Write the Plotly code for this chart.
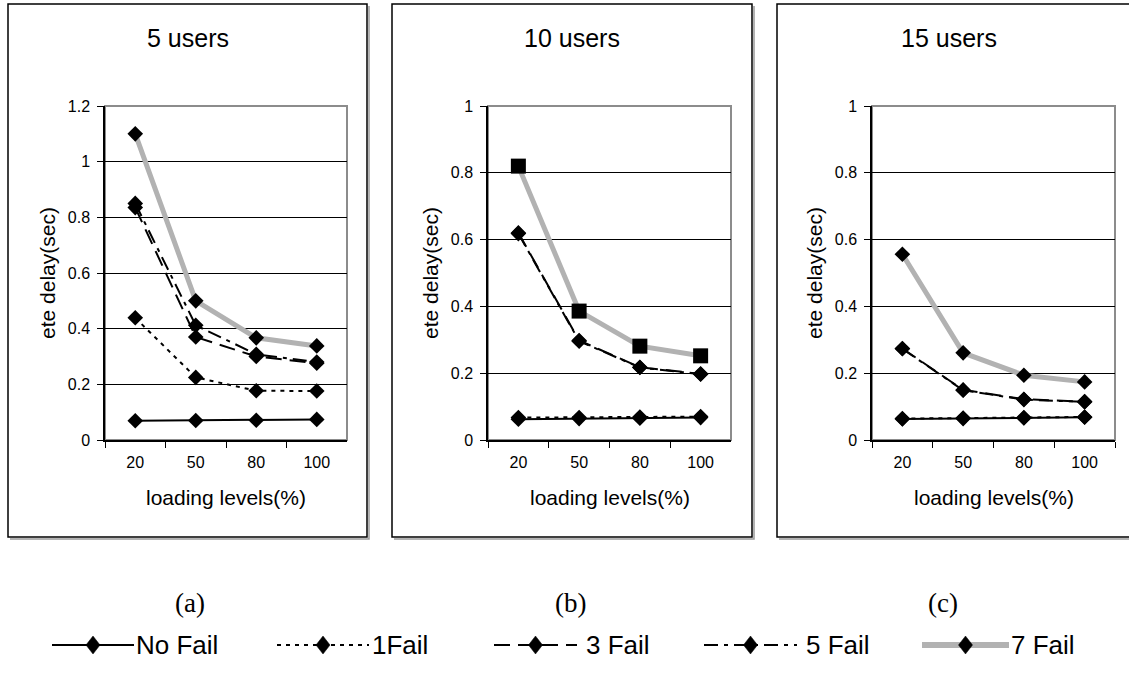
import plotly.graph_objects as go

W, H = 1129, 675

# ---- data -------------------------------------------------------------
loads = ["20", "50", "80", "100"]
series_names = ["No Fail", "1Fail", "3 Fail", "5 Fail", "7 Fail"]
panel_titles = ["5 users", "10 users", "15 users"]
panel_tags = ["(a)", "(b)", "(c)"]
y_max = [1.2, 1.0, 1.0]

users5_no_fail = [0.069, 0.070, 0.071, 0.074]
users5_1fail = [0.439, 0.225, 0.177, 0.176]
users5_3fail = [0.835, 0.370, 0.300, 0.276]
users5_5fail = [0.850, 0.412, 0.308, 0.280]
users5_7fail = [1.100, 0.500, 0.367, 0.338]

users10_no_fail = [0.062, 0.064, 0.065, 0.067]
users10_1fail = [0.067, 0.067, 0.069, 0.070]
users10_3fail = [0.620, 0.298, 0.218, 0.198]
users10_5fail = [0.618, 0.296, 0.217, 0.197]
users10_7fail = [0.820, 0.386, 0.281, 0.252]

users15_no_fail = [0.063, 0.064, 0.066, 0.068]
users15_1fail = [0.064, 0.066, 0.067, 0.069]
users15_3fail = [0.274, 0.150, 0.122, 0.115]
users15_5fail = [0.273, 0.149, 0.121, 0.114]
users15_7fail = [0.556, 0.261, 0.194, 0.174]

panels = [
    [users5_no_fail, users5_1fail, users5_3fail, users5_5fail, users5_7fail],
    [users10_no_fail, users10_1fail, users10_3fail, users10_5fail, users10_7fail],
    [users15_no_fail, users15_1fail, users15_3fail, users15_5fail, users15_7fail],
]

# ---- styling ----------------------------------------------------------
SANS = "Liberation Sans, Arial, sans-serif"
SERIF = "Liberation Serif, Times New Roman, serif"
GRAY_LINE = "#b2b2b2"

line_styles = [
    dict(color="black", width=2, dash="solid"),
    dict(color="black", width=2, dash="4px,5px"),
    dict(color="black", width=2, dash="16px,8px"),
    dict(color="black", width=2, dash="14px,6px,4px,6px"),
    dict(color=GRAY_LINE, width=5, dash="solid"),
]
# marker symbol per panel for the 7 Fail series
seven_symbol = ["diamond", "square", "diamond"]


def fx(px):
    return px / W


def fy(py):
    return 1 - py / H


plot_left = [105, 488, 872]
plot_right = [347, 731, 1115]
plot_top, plot_bottom = 106, 440
box_left = [8, 392, 777]
box_right = [367, 752, 1140]
box_top, box_bottom = 4, 537

fig = go.Figure()
shapes = []
annotations = []

for p in range(3):
    ax = "" if p == 0 else str(p + 1)
    xa, ya = "x" + ax, "y" + ax
    for s, name in enumerate(series_names):
        st = line_styles[s]
        sym = seven_symbol[p] if s == 4 else "diamond"
        msize = 15 if sym == "square" else 12
        fig.add_trace(go.Scatter(
            x=loads, y=panels[p][s], name=name, mode="lines+markers",
            line=dict(color=st["color"], width=st["width"], dash=st["dash"]),
            marker=dict(symbol=sym, size=msize, color="black",
                        line=dict(width=0)),
            xaxis=xa, yaxis=ya, showlegend=False, cliponaxis=False,
        ))

    dom_x = [fx(plot_left[p]), fx(plot_right[p])]
    dom_y = [fy(plot_bottom), fy(plot_top)]
    fig.layout["xaxis" + ax] = dict(
        domain=dom_x, anchor=ya, type="category", categoryorder="array",
        categoryarray=loads, range=[-0.5, 3.5], tickson="boundaries",
        ticks="outside", ticklen=6, tickwidth=1, tickcolor="black",
        showline=True, linecolor="black", linewidth=1.5, showgrid=False,
        zeroline=False, ticklabelstandoff=7, automargin=False,
        tickfont=dict(family=SANS, size=16, color="black"),
    )
    fig.layout["yaxis" + ax] = dict(
        domain=dom_y, anchor=xa, range=[0, y_max[p]], dtick=0.2,
        tickformat="~g", ticks="outside", ticklen=6, tickwidth=1,
        tickcolor="black", showline=True, linecolor="black", linewidth=1.5,
        showgrid=True, gridcolor="black", gridwidth=1, zeroline=False,
        ticklabelstandoff=4, automargin=False,
        tickfont=dict(family=SANS, size=16, color="black"),
    )

    # gray plot-area frame (top/right visible; left/bottom covered by axes)
    shapes.append(dict(
        type="rect", xref="paper", yref="paper",
        x0=dom_x[0], x1=dom_x[1], y0=dom_y[0], y1=dom_y[1], layer="below",
        line=dict(color="#8c8c8c", width=2),
    ))
    # outer chart box with a light shadow
    shapes.append(dict(
        type="path", xref="paper", yref="paper", layer="above",
        path=(f"M{fx(box_right[p] + 2)},{fy(box_top + 2)} "
              f"L{fx(box_right[p] + 2)},{fy(box_bottom + 2)} "
              f"L{fx(box_left[p] + 2)},{fy(box_bottom + 2)}"),
        line=dict(color="#9a9a9a", width=1.5),
    ))
    shapes.append(dict(
        type="rect", xref="paper", yref="paper", layer="above",
        x0=fx(box_left[p]), x1=fx(box_right[p]),
        y0=fy(box_bottom), y1=fy(box_top),
        line=dict(color="black", width=1.5),
    ))

    cx_box = fx((box_left[p] + min(box_right[p], 1121)) / 2)
    cx_plot = fx((plot_left[p] + plot_right[p]) / 2)
    annotations.append(dict(
        text=panel_titles[p], xref="paper", yref="paper", x=cx_box, y=fy(38),
        showarrow=False, xanchor="center", yanchor="middle",
        font=dict(family=SANS, size=25, color="black"),
    ))
    annotations.append(dict(
        text="loading levels(%)", xref="paper", yref="paper", x=cx_plot,
        y=fy(497), showarrow=False, xanchor="center", yanchor="middle",
        font=dict(family=SANS, size=21, color="black"),
    ))
    annotations.append(dict(
        text="ete delay(sec)", xref="paper", yref="paper",
        x=fx(plot_left[p] - 57), y=fy((plot_top + plot_bottom) / 2),
        textangle=-90, showarrow=False, xanchor="center", yanchor="middle",
        font=dict(family=SANS, size=21, color="black"),
    ))
    annotations.append(dict(
        text=panel_tags[p], xref="paper", yref="paper",
        x=fx([190, 570, 943][p]), y=fy(603), showarrow=False,
        xanchor="center", yanchor="middle",
        font=dict(family=SERIF, size=27, color="black"),
    ))

# ---- legend row -------------------------------------------------------
leg_y = 645
leg_x0 = [52, 277, 494, 704, 922]
leg_x1 = [134, 369, 577, 797, 1009]
leg_text_x = [134, 370, 584, 804, 1009]
for s, name in enumerate(series_names):
    st = line_styles[s]
    shapes.append(dict(
        type="line", xref="paper", yref="paper", layer="above",
        x0=fx(leg_x0[s]), x1=fx(leg_x1[s]), y0=fy(leg_y), y1=fy(leg_y),
        line=dict(color=st["color"], width=st["width"] + (1 if s == 4 else 0),
                  dash=st["dash"]),
    ))
    cx = (leg_x0[s] + leg_x1[s]) / 2
    shapes.append(dict(
        type="path", xref="paper", yref="paper", layer="above",
        path=(f"M{fx(cx)},{fy(leg_y - 9)} L{fx(cx + 7)},{fy(leg_y)} "
              f"L{fx(cx)},{fy(leg_y + 9)} L{fx(cx - 7)},{fy(leg_y)} Z"),
        fillcolor="black", line=dict(color="black", width=0.5),
    ))
    annotations.append(dict(
        text=name, xref="paper", yref="paper", x=fx(leg_text_x[s]),
        y=fy(leg_y), showarrow=False, xanchor="left", yanchor="middle",
        font=dict(family=SANS, size=26, color="black"),
    ))

fig.update_layout(
    width=W, height=H,
    margin=dict(l=0, r=0, t=0, b=0, pad=0, autoexpand=False),
    paper_bgcolor="white", plot_bgcolor="white", showlegend=False,
    shapes=shapes, annotations=annotations,
)

fig.write_html("out.html")
